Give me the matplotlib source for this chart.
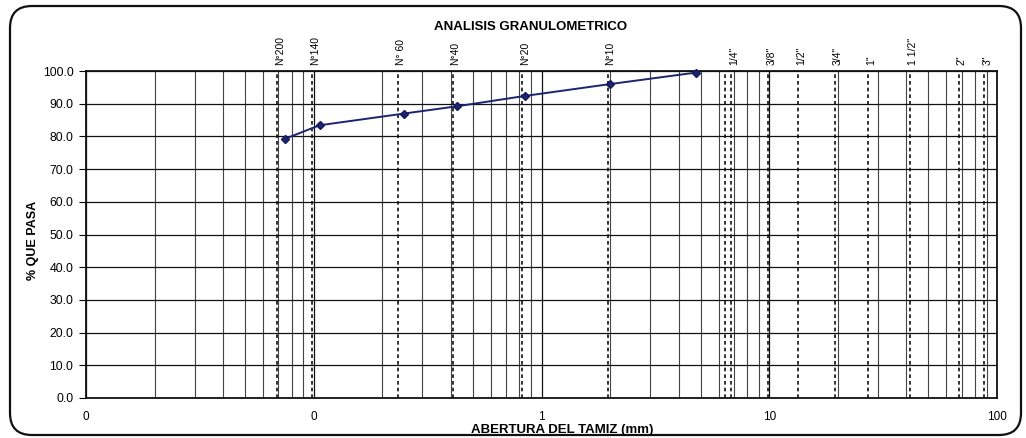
import matplotlib
matplotlib.use("Agg")
import matplotlib.pyplot as plt
from matplotlib.patches import FancyBboxPatch
from matplotlib.ticker import LogLocator, FuncFormatter, MultipleLocator, NullFormatter

# Curva granulométrica: abertura del tamiz (mm) y porcentaje que pasa
aberturas = [0.075, 0.106, 0.25, 0.425, 0.85, 2.0, 4.75]
pasa = [79.3, 83.4, 87.0, 89.2, 92.4, 96.0, 99.5]

# Líneas de referencia de tamices y sus rótulos
tamices_pos = [0.069, 0.098, 0.234, 0.407, 0.824, 1.95, 6.4, 6.8,
               9.9, 13.4, 19.4, 27.1, 41.7, 68.0, 88.0]
tamices_txt = ["N°200", "N°140", "N° 60", "N°40", "N°20", "N°10", "", "1/4\"",
               "3/8\"", "1/2\"", "3/4\"", "1\"", "1 1/2\"", "2\"", "3\""]

plt.rcParams["font.family"] = ["Liberation Sans", "DejaVu Sans"]

W, H = 1026, 438
fig = plt.figure(figsize=(W / 100, H / 100), dpi=100)
ax = fig.add_axes([86 / W, 1 - 398 / H, (997 - 86) / W, (398 - 71) / H])

ax.set_xscale("log")
ax.set_xlim(0.01, 100)
ax.set_ylim(0, 100)

# Rejilla logarítmica
ax.xaxis.set_major_locator(LogLocator(base=10))
ax.xaxis.set_minor_locator(LogLocator(base=10, subs=range(2, 10)))
ax.xaxis.set_major_formatter(FuncFormatter(lambda v, p: f"{v:.0f}"))
ax.xaxis.set_minor_formatter(NullFormatter())
ax.yaxis.set_major_locator(MultipleLocator(10))
ax.yaxis.set_major_formatter(FuncFormatter(lambda v, p: f"{v:.1f}"))

ax.grid(which="major", axis="both", color="#111111", lw=0.9)
ax.grid(which="minor", axis="x", color="#444444", lw=0.8)
ax.set_axisbelow(True)

ax.tick_params(axis="x", which="both", length=0, pad=9, labelsize=8.5)
ax.tick_params(axis="y", which="major", length=5, width=0.8, direction="out",
               pad=4, labelsize=8.8)
for s in ax.spines.values():
    s.set_color("#111111")
    s.set_linewidth(1.3)

# Tamices: líneas discontinuas y rótulos verticales
for x, t in zip(tamices_pos, tamices_txt):
    ax.axvline(x, color="#111111", lw=1.2, ls=(0, (2.2, 1.8)), zorder=2)
    if t:
        ax.annotate(t, xy=(x, 1), xycoords=("data", "axes fraction"),
                    xytext=(3, 6), textcoords="offset pixels",
                    rotation=90, ha="center", va="bottom", fontsize=7.5)

# Curva granulométrica
ax.plot(aberturas, pasa, color="#1c2470", lw=1.4, marker="D", ms=4.5,
        mec="#141a5c", mfc="#1c2470", zorder=4, clip_on=False)

# Títulos
fig.text(531 / W, 1 - 27 / H, "ANALISIS GRANULOMETRICO", ha="center",
         va="center", fontsize=9.5, fontweight="bold")
fig.text(562 / W, 1 - 430 / H, "ABERTURA DEL TAMIZ (mm)", ha="center",
         va="center", fontsize=9.5, fontweight="bold")
fig.text(33 / W, 1 - 240 / H, "% QUE PASA", ha="center", va="center",
         rotation=90, fontsize=9, fontweight="bold")

# Marco redondeado alrededor de la hoja
marco = FancyBboxPatch((0.10, 0.03), 10.11, 4.29,
                       boxstyle="round,pad=0,rounding_size=0.22",
                       transform=fig.dpi_scale_trans, fill=False,
                       ec="#111111", lw=1.6)
fig.patches.append(marco)

fig.savefig("out.png", dpi=100, facecolor="white")
